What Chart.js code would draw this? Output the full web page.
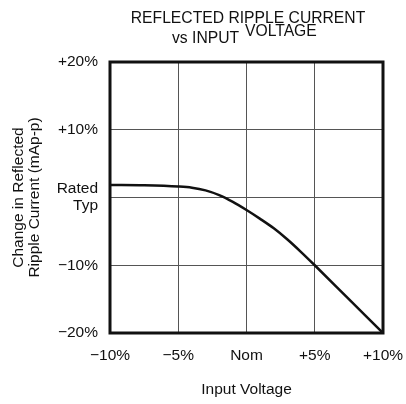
<!DOCTYPE html>
<html>
<head>
<meta charset="utf-8">
<script src="https://cdn.jsdelivr.net/npm/chart.js@4"></script>
<style>
  html, body { margin: 0; padding: 0; background: #fff; }
  #wrap { width: 406px; height: 404px; }
</style>
</head>
<body>
<div id="wrap"><canvas id="myChart" width="406" height="404"></canvas></div>
<script>
// input voltage deviation (%) and change in ripple current (%)
const inputVoltage = [-10, -7.5, -5, -4, -3, -2, -1, 0, 1, 2, 3, 4, 5, 7.5, 10];
const rippleChange = [1.85, 1.8, 1.62, 1.45, 1.05, 0.35, -0.65, -1.85, -3.15, -4.55, -6.2, -8.05, -10, -15, -20];
const xTickLabels = { '-10': '\u221210%', '-5': '\u22125%', '0': 'Nom', '5': '+5%', '10': '+10%' };
const yTickLabels = { '20': '+20%', '10': '+10%', '0': ['Rated', 'Typ'], '-10': '\u221210%', '-20': '\u221220%' };

const font = 'Liberation Sans, Arial, sans-serif';

const titlePlugin = {
    id: 'titles',
    afterDraw(chart) {
        const c = chart.ctx;
        c.save();
        c.fillStyle = '#111';
        c.font = '15.7px ' + font;
        c.textBaseline = 'middle';
        c.textAlign = 'center';
        c.fillText('REFLECTED RIPPLE CURRENT', 248, 19);
        c.textAlign = 'left';
        c.fillText('vs INPUT', 172, 39);
        c.fillText('VOLTAGE', 245, 32);
        // frame
        const a = chart.chartArea;
        c.strokeStyle = '#111';
        c.lineWidth = 3;
        c.strokeRect(a.left, a.top, a.right - a.left, a.bottom - a.top);
        c.restore();
    }
};

const ctx = document.getElementById('myChart').getContext('2d');
new Chart(ctx, {
    type: 'line',
    data: {
        datasets: [{
            data: inputVoltage.map((v, i) => ({ x: v, y: rippleChange[i] })),
            borderColor: '#111',
            borderWidth: 2.5,
            pointRadius: 0,
            fill: false,
            cubicInterpolationMode: 'monotone'
        }]
    },
    options: {
        responsive: false,
        animation: false,
        layout: { padding: { top: 62, right: 23, left: 0, bottom: 0 } },
        plugins: { legend: { display: false }, tooltip: { enabled: false } },
        scales: {
            x: {
                type: 'linear',
                min: -10, max: 10,
                ticks: {
                    stepSize: 5,
                    color: '#111',
                    font: { family: font, size: 15.5 },
                    padding: 13,
                    maxRotation: 0,
                    callback: v => xTickLabels[String(v)]
                },
                grid: { color: '#555', lineWidth: 1, drawTicks: false },
                border: { display: false },
                title: {
                    display: true,
                    text: 'Input Voltage',
                    color: '#111',
                    font: { family: font, size: 15.5 },
                    padding: { top: 0, bottom: 5 }
                },
                afterFit(s) {
                    s.height = 71;
                    s.paddingLeft = 0;
                    s.paddingRight = 0;
                }
            },
            y: {
                min: -20, max: 20,
                ticks: {
                    stepSize: 10,
                    color: '#111',
                    font: { family: font, size: 15.5, lineHeight: 1.1 },
                    padding: 12,
                    callback: v => yTickLabels[String(v)]
                },
                grid: { color: '#555', lineWidth: 1, drawTicks: false },
                border: { display: false },
                title: {
                    display: true,
                    text: ['Change in Reflected', 'Ripple Current (mAp-p)'],
                    color: '#111',
                    font: { family: font, size: 15.5, lineHeight: 1.08 },
                    padding: { top: 10, bottom: 0 }
                },
                afterFit(s) { s.width = 110; }
            }
        }
    },
    plugins: [titlePlugin]
});
</script>
</body>
</html>
